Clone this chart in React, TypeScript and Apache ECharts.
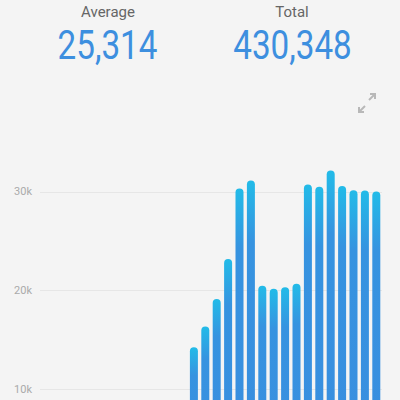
import React, { useEffect, useRef } from "react";
import * as echarts from "echarts";

const days: string[] = Array.from({ length: 30 }, (_, i) => String(i + 1));
const values: (number | null)[] = [
  null, null, null, null, null, null, null, null, null, null, null, null, null,
  14250, 16350, 19150, 23180, 30330, 31140, 20480, 20170, 20340, 20680,
  30740, 30500, 32160, 30570, 30160, 30130, 30018,
];
const averageText = "25,314";
const totalText = "430,348";
const yTicks = [0, 10000, 20000, 30000, 40000];

export default function App() {
  const ref = useRef<HTMLDivElement>(null);
  useEffect(() => {
    if (!ref.current) return;
    const chart = echarts.init(ref.current, null, { renderer: "svg" });
    const grey = "#b8b8b8";
    chart.setOption({
      animation: false,
      backgroundColor: "#f4f4f4",
      textStyle: { fontFamily: "Roboto" },
      grid: { left: 40, right: 18, top: 93, bottom: 32 },
      xAxis: {
        type: "category",
        data: days,
        show: false,
      },
      yAxis: {
        type: "value",
        min: 0,
        max: 40000,
        interval: 10000,
        axisLine: { show: false },
        axisTick: { show: false },
        axisLabel: {
          color: "#aaaaaa",
          fontSize: 11,
          fontFamily: "Roboto",
          margin: 8,
          formatter: (v: number) => (v === 0 || v === 40000 ? "" : v / 1000 + "k"),
        },
        splitLine: {
          lineStyle: {
            color: ["#e6e6e6", "#e6e6e6", "#e6e6e6", "#e6e6e6", "rgba(0,0,0,0)"],
            width: 1,
          },
        },
      },
      series: [
        {
          type: "bar",
          data: values,
          barWidth: 8,
          itemStyle: {
            borderRadius: [4, 4, 0, 0],
            color: new echarts.graphic.LinearGradient(0, 0, 0, 1, [
              { offset: 0, color: "#22bbe8" },
              { offset: 0.2, color: "#3693e0" },
              { offset: 1, color: "#3a8ddf" },
            ]),
          },
        },
      ],
      graphic: [
        {
          type: "text",
          x: 108,
          y: 12,
          style: {
            text: "Average",
            textAlign: "center",
            textVerticalAlign: "middle",
            fill: "#666666",
            fontSize: 15,
            fontFamily: "Roboto",
          },
        },
        {
          type: "text",
          x: 292,
          y: 12,
          style: {
            text: "Total",
            textAlign: "center",
            textVerticalAlign: "middle",
            fill: "#666666",
            fontSize: 15,
            fontFamily: "Roboto",
          },
        },
        {
          type: "text",
          x: 107.5,
          y: 45.5,
          scaleX: 0.83,
          style: {
            text: averageText,
            textAlign: "center",
            textVerticalAlign: "middle",
            fill: "#3d8fdf",
            fontSize: 40,
            fontFamily: "Roboto",
          },
        },
        {
          type: "text",
          x: 292.5,
          y: 45.5,
          scaleX: 0.83,
          style: {
            text: totalText,
            textAlign: "center",
            textVerticalAlign: "middle",
            fill: "#3d8fdf",
            fontSize: 40,
            fontFamily: "Roboto",
          },
        },
        {
          type: "group",
          children: [
            { type: "line", shape: { x1: 369, y1: 100, x2: 375, y2: 94 }, style: { stroke: grey, lineWidth: 2 } },
            { type: "polyline", shape: { points: [[370, 94], [375, 94], [375, 99]] }, style: { stroke: grey, lineWidth: 2, fill: null } },
            { type: "line", shape: { x1: 359, y1: 112, x2: 365, y2: 106 }, style: { stroke: grey, lineWidth: 2 } },
            { type: "polyline", shape: { points: [[359, 107], [359, 112], [364, 112]] }, style: { stroke: grey, lineWidth: 2, fill: null } },
          ],
        },
      ],
    });
    return () => chart.dispose();
  }, []);
  return (
    <div
      ref={ref}
      style={{ position: "fixed", top: 0, left: 0, width: 400, height: 520 }}
    />
  );
}
